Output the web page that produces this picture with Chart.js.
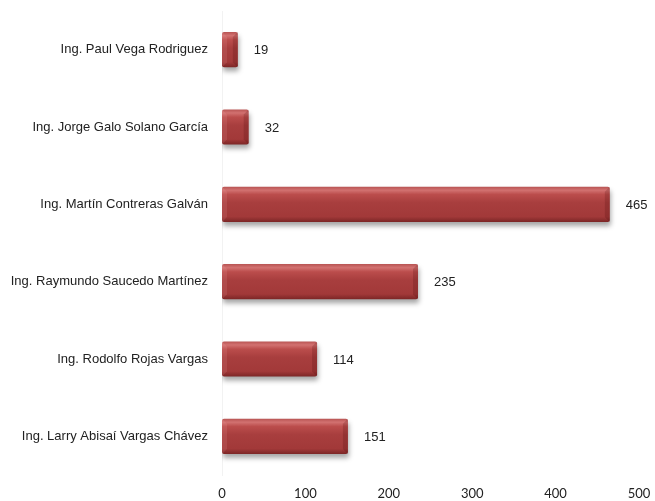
<!DOCTYPE html>
<html>
<head>
<meta charset="utf-8">
<script src="https://cdn.jsdelivr.net/npm/chart.js@4"></script>
<style>
  html, body { margin: 0; padding: 0; background: #ffffff; }
  #wrap { width: 655px; height: 501px; }
</style>
</head>
<body>
<div id="wrap"><canvas id="c" width="655" height="501"></canvas></div>
<script>
// Engineers and their counts
const engineers = [
  'Ing. Paul Vega Rodriguez',
  'Ing. Jorge Galo Solano García',
  'Ing. Martín Contreras Galván',
  'Ing. Raymundo Saucedo Martínez',
  'Ing. Rodolfo Rojas Vargas',
  'Ing. Larry Abisaí Vargas Chávez'
];
const counts = [19, 32, 465, 235, 114, 151];
const xTicks = [0, 100, 200, 300, 400, 500];

const labelFont = '"Liberation Sans", Arial, sans-serif';

// Vertical shading for a bar, built from its geometry
function shadeBar(c, bar) {
  const top = bar.y - bar.height / 2;
  const bottom = bar.y + bar.height / 2;
  const g = c.createLinearGradient(0, top, 0, bottom);
  g.addColorStop(0, '#b85453');
  g.addColorStop(0.1, '#d27170');
  g.addColorStop(0.22, '#bb4d4c');
  g.addColorStop(0.45, '#a83e3e');
  g.addColorStop(0.85, '#a23939');
  g.addColorStop(1, '#7c2626');
  return g;
}

// Per-bar shading and a soft drop shadow
const barStyle = {
  id: 'barStyle',
  beforeDatasetDraw(chart) {
    const c = chart.ctx;
    chart.getDatasetMeta(0).data.forEach(bar => {
      bar.options = Object.assign({}, bar.options, { backgroundColor: shadeBar(c, bar) });
    });
    c.save();
    c.shadowColor = 'rgba(0,0,0,0.35)';
    c.shadowBlur = 5;
    c.shadowOffsetX = 1;
    c.shadowOffsetY = 4;
  },
  afterDatasetDraw(chart) {
    const c = chart.ctx;
    c.restore();
    // bevelled ends: lighter left cap, darker right cap
    chart.getDatasetMeta(0).data.forEach(bar => {
      const top = bar.y - bar.height / 2;
      const bottom = bar.y + bar.height / 2;
      const left = bar.base;
      const right = bar.x;
      const b = Math.min(5, (right - left) / 3);
      c.save();
      c.fillStyle = 'rgba(255,190,190,0.12)';
      c.beginPath();
      c.moveTo(left, top);
      c.lineTo(left + b, top + b);
      c.lineTo(left + b, bottom - b);
      c.lineTo(left, bottom);
      c.closePath();
      c.fill();
      c.fillStyle = 'rgba(60,0,0,0.18)';
      c.beginPath();
      c.moveTo(right, top);
      c.lineTo(right - b, top + b);
      c.lineTo(right - b, bottom - b);
      c.lineTo(right, bottom);
      c.closePath();
      c.fill();
      c.restore();
    });
  }
};

// Value written to the right of each bar end
const valueLabels = {
  id: 'valueLabels',
  afterDatasetsDraw(chart) {
    const c = chart.ctx;
    const meta = chart.getDatasetMeta(0);
    const data = chart.data.datasets[0].data;
    c.save();
    c.font = '13px ' + labelFont;
    c.fillStyle = '#222222';
    c.textAlign = 'left';
    c.textBaseline = 'middle';
    meta.data.forEach((bar, i) => {
      c.fillText(String(data[i]), bar.x + 16, bar.y + 1);
    });
    c.restore();
  }
};

new Chart(document.getElementById('c'), {
  type: 'bar',
  data: {
    labels: engineers,
    datasets: [{
      data: counts,
      backgroundColor: '#a53c3c',
      borderWidth: 0,
      borderRadius: 2,
      borderSkipped: false,
      categoryPercentage: 0.5,
      barPercentage: 0.91
    }]
  },
  options: {
    indexAxis: 'y',
    responsive: false,
    animation: false,
    devicePixelRatio: 1,
    layout: { padding: { top: 11, right: 16, bottom: 0, left: 0 } },
    plugins: {
      legend: { display: false },
      tooltip: { enabled: false }
    },
    scales: {
      x: {
        min: 0,
        max: 500,
        afterBuildTicks(scale) { scale.ticks = xTicks.map(v => ({ value: v })); },
        afterFit(scale) {
          scale.height = 26;
          scale.paddingLeft = 0;
          scale.paddingRight = 0;
        },
        grid: { display: false, drawTicks: false },
        border: { display: false },
        ticks: {
          padding: 11,
          color: '#222222',
          font: { family: 'Lato, "Open Sans", sans-serif', size: 13 }
        }
      },
      y: {
        afterFit(scale) {
          scale.width = 222;
          scale.paddingTop = 0;
          scale.paddingBottom = 0;
        },
        grid: { display: false, drawTicks: false },
        border: { display: true, color: '#f2f2f2', width: 1 },
        ticks: {
          padding: 14,
          color: '#222222',
          font: { family: labelFont, size: 13 }
        }
      }
    }
  },
  plugins: [barStyle, valueLabels]
});
</script>
</body>
</html>
